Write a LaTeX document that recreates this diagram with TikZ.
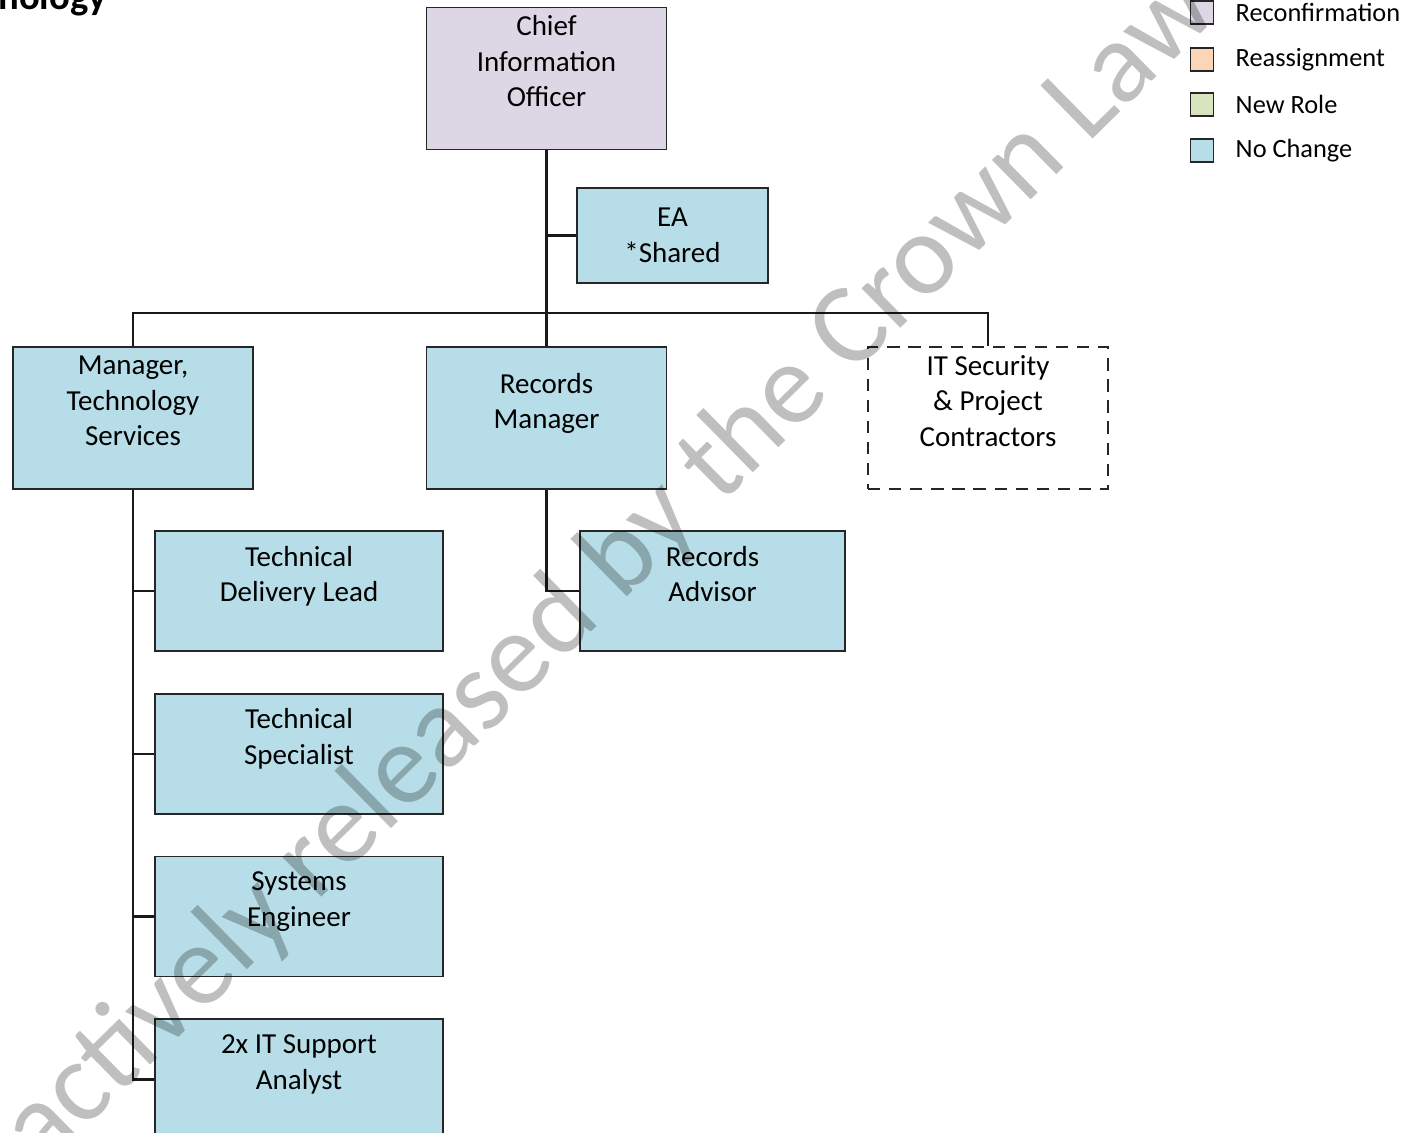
\documentclass[tikz,border=0pt]{standalone}
\usepackage{fontspec}
\setmainfont{Carlito}
\usetikzlibrary{positioning,calc}
\definecolor{reconfirm}{RGB}{221,215,229}
\definecolor{reassign}{RGB}{251,213,181}
\definecolor{newrole}{RGB}{215,228,189}
\definecolor{nochange}{RGB}{183,222,232}
\tikzset{
  % Base styles
  chart base/.style={
    x=0.02cm, y=-0.02cm,
    every node/.style={font=\fontsize{16.5}{20.2}\selectfont},
  },
  % Role boxes
  role box/.style={rectangle, draw=black!85, line width=1pt, align=center, inner sep=2pt,
    minimum width=4.8cm, minimum height=2.84cm, fill=nochange,
    execute at end node={\\\rule[-19.5pt]{0pt}{0pt}}},
  child box/.style={role box, minimum width=5.76cm, minimum height=2.4cm},
  ea box/.style={rectangle, draw=black!85, line width=1pt, align=center, inner sep=2pt,
    minimum width=3.82cm, minimum height=1.9cm, fill=nochange},
  contractor box/.style={role box, fill=white, dashed, dash pattern=on 7pt off 5pt},
  % Legend
  legend key/.style={rectangle, draw=black!85, line width=1pt, minimum size=0.46cm, inner sep=0pt},
  legend text/.style={font=\fontsize{15}{18}\selectfont, inner sep=0pt, anchor=west},
  % Reporting lines
  org line/.style={draw=black!90, line width=1.3pt},
  % Page furniture
  title text/.style={font=\fontsize{22}{26}\selectfont\bfseries, inner sep=0pt},
  watermark/.style={font=\fontsize{66}{70}\selectfont, text=black, text opacity=0.25, inner sep=0pt},
}

\begin{document}
\begin{tikzpicture}[chart base]
\useasboundingbox (0,0) rectangle (1411,1133);
\clip (0,0) rectangle (1411,1133);

% Title (cut off at the top edge)
\node[title text, anchor=base west] (title) at (-2,9) {nology};

% Top level
\node[role box, fill=reconfirm] (cio) at (546.5,78.5) {Chief\\Information\\Officer};
\node[ea box] (ea) at (672.5,235.5) {EA\\*Shared};

% Second level
\node[role box] (mts) at (133,418) {Manager,\\Technology\\Services};
\node[role box] (rm) at (546.5,418) {Records\\Manager};
\node[contractor box] (itsec) at (988,418) {IT Security\\\& Project\\Contractors};

% Technology services team
\node[child box] (tdl) at (299,591) {Technical\\Delivery Lead};
\node[child box, below=0.82cm of tdl] (tsp) {Technical\\Specialist};
\node[child box, below=0.82cm of tsp] (sen) {Systems\\Engineer};
\node[child box, below=0.82cm of sen] (itsa) {2x IT Support\\Analyst};

% Records team
\node[child box, minimum width=5.3cm] (radv) at (712.5,591) {Records\\Advisor};

% Reporting lines
\coordinate (bus) at (546.5,313);
\draw[org line] (cio) -- (rm);
\draw[org line] (ea.west) -- (ea.west -| cio.south);
\draw[org line] (mts.north) |- (bus) -| (itsec.north);
\draw[org line, line width=1.5pt] (mts.south) |- (itsa.west);
\draw[org line] (tdl.west) -- (tdl.west -| mts.south);
\draw[org line] (tsp.west) -- (tsp.west -| mts.south);
\draw[org line] (sen.west) -- (sen.west -| mts.south);
\draw[org line] (rm.south) |- (radv.west);

% Legend
\node[legend key, fill=reconfirm] (k1) at (1202,12.5) {};
\node[legend key, fill=reassign] (k2) at (1202,59.5) {};
\node[legend key, fill=newrole] (k3) at (1202,104.5) {};
\node[legend key, fill=nochange] (k4) at (1202,150.5) {};
\node[legend text, right=0.42cm of k1] (l1) {Reconfirmation};
\node[legend text, right=0.42cm of k2] (l2) {Reassignment};
\node[legend text, right=0.42cm of k3] (l3) {New Role};
\node[legend text, right=0.42cm of k4] (l4) {No Change};

% Watermark
\node[watermark, rotate=44.5, anchor=base west] (wm) at (43,1171) {actively released by the Crown Law};
\end{tikzpicture}
\end{document}
